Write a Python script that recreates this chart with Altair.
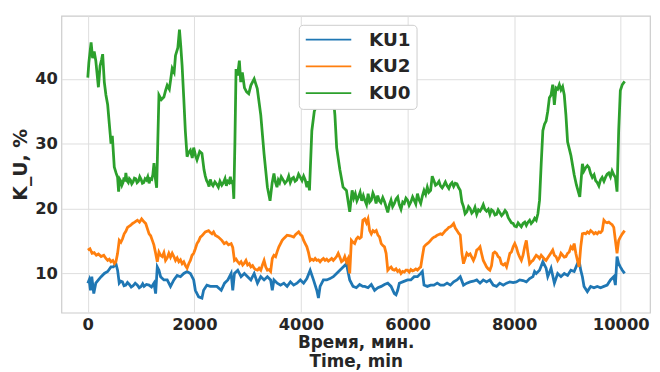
import altair as alt
import pandas as pd

# ---------------- data ----------------
t_ku0 = [0, 20, 40, 62, 90, 120, 150, 199, 230, 260, 279, 310, 340, 373, 404, 420, 435, 460, 497, 530,
         559, 578, 600, 621, 640, 660, 680, 700, 714, 735, 760, 780, 800, 825, 850, 875, 900, 925, 950, 975,
         1000, 1025, 1050, 1075, 1100, 1125, 1150, 1175, 1200, 1220, 1242, 1270, 1292, 1335, 1380, 1428, 1460, 1490, 1530, 1584,
         1620, 1646, 1690, 1720, 1745, 1770, 1801, 1830, 1863, 1890, 1925, 1960, 1987, 2020, 2049, 2100, 2142, 2180, 2205, 2230,
         2250, 2275, 2298, 2325, 2350, 2385, 2422, 2450, 2480, 2515, 2546, 2575, 2600, 2625, 2650, 2675, 2700, 2720, 2740, 2760,
         2782, 2810, 2844, 2870, 2900, 2940, 2980, 3020, 3060, 3122, 3180, 3246, 3308, 3370, 3420, 3460, 3493, 3520, 3550, 3575,
         3600, 3630, 3660, 3700, 3740, 3770, 3800, 3830, 3860, 3890, 3920, 3955, 3988, 4020, 4050, 4080, 4111, 4135, 4160, 4204,
         4250, 4300, 4350, 4400, 4450, 4500, 4550, 4600, 4637, 4670, 4730, 4790, 4853, 4915, 4960, 4990, 5020, 5050, 5080, 5110,
         5140, 5170, 5197, 5230, 5260, 5290, 5320, 5350, 5380, 5410, 5440, 5470, 5500, 5535, 5570, 5600, 5629, 5660, 5690, 5720,
         5753, 5785, 5815, 5845, 5877, 5910, 5939, 5970, 6000, 6030, 6062, 6095, 6124, 6155, 6186, 6215, 6247, 6280, 6309, 6340,
         6371, 6400, 6433, 6463, 6495, 6525, 6557, 6590, 6618, 6650, 6680, 6710, 6742, 6775, 6804, 6835, 6865, 6895, 6927, 6960,
         6989, 7020, 7050, 7080, 7112, 7145, 7174, 7205, 7236, 7265, 7298, 7330, 7360, 7390, 7421, 7450, 7483, 7515, 7545, 7575,
         7607, 7640, 7669, 7700, 7730, 7765, 7796, 7830, 7858, 7890, 7920, 7950, 7982, 8010, 8043, 8075, 8105, 8135, 8167, 8200,
         8229, 8260, 8291, 8320, 8353, 8385, 8415, 8446, 8477, 8508, 8539, 8570, 8600, 8631, 8662, 8693, 8724, 8755, 8786, 8817,
         8848, 8879, 8910, 8941, 8972, 9003, 9065, 9127, 9170, 9232, 9281, 9310, 9343, 9375, 9405, 9435, 9467, 9500, 9529, 9560,
         9590, 9620, 9652, 9685, 9714, 9745, 9776, 9808, 9838, 9870, 9900, 9931, 9962, 9993, 10030, 10074]
v_ku0 = [40.2, 42.5, 44.0, 45.6, 43.2, 44.2, 42.8, 38.7, 42.0, 43.0, 43.8, 39.5, 37.5, 36.0, 33.0, 31.5, 30.0, 31.2, 26.4, 25.5,
         24.8, 22.6, 24.5, 24.2, 23.6, 24.0, 24.8, 24.2, 25.5, 24.3, 24.0, 24.6, 24.4, 23.8, 24.1, 24.7, 24.6, 24.0, 24.2, 24.9,
         24.5, 23.9, 24.0, 24.6, 24.4, 24.9, 23.9, 24.6, 24.5, 25.2, 27.0, 24.5, 23.2, 37.5, 36.8, 37.2, 38.2, 39.0, 38.4, 41.6,
         41.0, 43.6, 44.8, 47.6, 45.0, 42.0, 37.0, 32.0, 28.0, 28.6, 29.0, 27.8, 29.4, 28.2, 27.5, 28.8, 28.5, 26.0, 25.0, 24.3,
         24.0, 23.4, 24.5, 23.8, 23.5, 24.1, 23.7, 23.3, 24.2, 23.6, 24.0, 24.6, 23.5, 24.2, 24.0, 24.9, 23.8, 24.4, 21.5, 30.0,
         41.5, 40.5, 42.8, 39.5, 41.0, 38.6, 38.0, 37.7, 39.0, 40.0, 38.5, 34.4, 28.4, 23.3, 21.2, 24.0, 25.4, 24.1, 23.3, 24.4,
         24.0, 24.9, 24.5, 23.9, 24.3, 25.0, 24.0, 24.6, 24.8, 24.2, 24.4, 25.3, 24.8, 24.3, 25.0, 24.4, 23.3, 24.2, 22.8, 32.0,
         35.0, 36.0, 37.5, 38.2, 37.0, 38.0, 36.5, 37.8, 34.4, 29.4, 26.0, 23.3, 22.8, 19.5, 22.8, 21.6, 22.3, 21.2, 21.8, 22.5,
         21.2, 22.0, 21.3, 20.6, 22.3, 21.0, 21.3, 22.4, 21.8, 20.8, 22.0, 21.2, 20.9, 21.7, 21.0, 20.2, 19.4, 20.6, 21.3, 20.3,
         20.8, 21.5, 21.8, 20.6, 19.9, 21.0, 20.8, 21.6, 21.3, 20.5, 21.0, 21.8, 21.3, 20.7, 22.3, 21.4, 20.8, 22.0, 22.8, 22.2,
         23.3, 22.5, 22.8, 25.0, 24.3, 23.6, 23.8, 24.2, 23.5, 23.2, 23.6, 24.1, 23.5, 23.1, 23.7, 24.0, 23.4, 23.9, 23.8, 23.2,
         22.8, 21.0, 20.3, 19.2, 19.5, 20.3, 20.0, 19.3, 19.6, 20.2, 19.1, 19.8, 19.6, 20.0, 20.6, 19.9, 19.6, 19.9, 19.1, 19.8,
         19.6, 19.0, 19.1, 19.8, 19.4, 18.9, 19.2, 19.7, 19.4, 18.6, 18.2, 17.8, 17.7, 17.3, 17.2, 17.8, 17.5, 17.2, 17.7, 17.9,
         17.4, 17.9, 18.2, 17.7, 18.0, 18.5, 18.2, 19.2, 21.3, 26.9, 32.0, 33.0, 33.5, 35.0, 37.1, 37.5, 39.1, 36.0, 38.6, 38.4,
         39.1, 38.3, 38.8, 37.5, 34.4, 30.3, 28.2, 25.2, 23.6, 21.8, 26.9, 25.8, 26.3, 26.6, 26.3, 25.4, 24.8, 25.2, 24.3, 24.0,
         23.5, 24.4, 24.8, 24.2, 24.8, 25.3, 25.5, 24.9, 25.8, 25.2, 24.8, 22.6, 32.0, 38.2, 39.1, 39.6]

t_ku2 = [0, 40, 80, 120, 160, 200, 250, 300, 340, 373, 404, 435, 470, 500, 528, 559, 590, 621, 650, 683,
         714, 745, 800, 840, 880, 931, 970, 1010, 1050, 1087, 1150, 1180, 1211, 1240, 1273, 1304, 1335, 1366, 1397, 1428,
         1459, 1490, 1521, 1552, 1584, 1615, 1646, 1677, 1708, 1739, 1770, 1801, 1832, 1863, 1894, 1925, 1956, 1987, 2018, 2049,
         2080, 2111, 2142, 2173, 2205, 2267, 2300, 2330, 2360, 2391, 2450, 2515, 2560, 2600, 2640, 2690, 2720, 2752, 2782, 2814,
         2844, 2876, 2906, 2938, 2968, 2999, 3030, 3060, 3092, 3122, 3153, 3184, 3215, 3246, 3277, 3308, 3339, 3370, 3400, 3431,
         3462, 3493, 3524, 3555, 3586, 3617, 3648, 3679, 3740, 3800, 3863, 3900, 3957, 3990, 4020, 4050, 4080, 4111, 4142, 4173,
         4204, 4235, 4266, 4297, 4328, 4359, 4390, 4421, 4452, 4483, 4514, 4545, 4576, 4607, 4637, 4668, 4699, 4730, 4761, 4792,
         4822, 4853, 4884, 4915, 4946, 4977, 5008, 5039, 5070, 5101, 5132, 5161, 5197, 5230, 5258, 5289, 5320, 5351, 5382, 5413,
         5444, 5475, 5506, 5537, 5567, 5598, 5629, 5660, 5691, 5722, 5753, 5784, 5815, 5846, 5877, 5908, 5939, 5970, 6000, 6031,
         6062, 6093, 6124, 6155, 6186, 6217, 6247, 6278, 6309, 6340, 6371, 6402, 6433, 6464, 6495, 6526, 6557, 6588, 6618, 6649,
         6680, 6711, 6742, 6773, 6804, 6835, 6865, 6896, 6927, 6958, 6989, 7020, 7050, 7081, 7112, 7143, 7174, 7205, 7236, 7267,
         7298, 7329, 7360, 7391, 7421, 7452, 7483, 7514, 7545, 7576, 7607, 7638, 7669, 7700, 7730, 7761, 7796, 7827, 7858, 7889,
         7920, 7950, 7982, 8012, 8043, 8074, 8105, 8136, 8167, 8198, 8229, 8260, 8291, 8322, 8353, 8384, 8415, 8446, 8477, 8508,
         8539, 8570, 8600, 8631, 8662, 8693, 8724, 8755, 8786, 8817, 8848, 8879, 8910, 8941, 8972, 9003, 9034, 9065, 9096, 9127,
         9158, 9188, 9219, 9250, 9281, 9312, 9343, 9374, 9405, 9436, 9467, 9498, 9529, 9560, 9591, 9622, 9653, 9684, 9715, 9746,
         9777, 9808, 9839, 9870, 9900, 9931, 9962, 9993, 10030, 10074]
v_ku2 = [13.6, 13.8, 13.1, 13.2, 12.8, 13.0, 12.6, 12.8, 12.3, 12.0, 12.2, 11.8, 12.0, 11.5, 11.8, 13.1, 15.1, 14.8, 15.3, 16.1,
         16.5, 17.1, 17.4, 17.7, 17.9, 18.2, 17.9, 18.4, 18.0, 17.7, 16.1, 15.8, 15.1, 14.4, 13.1, 11.8, 13.3, 12.8, 12.6, 13.2,
         12.0, 12.4, 13.1, 12.5, 13.1, 12.6, 12.0, 12.4, 11.8, 12.1, 11.5, 11.8, 11.2, 10.8, 11.5, 12.0, 12.8, 13.1, 13.8, 14.6,
         15.0, 15.6, 15.8, 16.1, 16.4, 16.6, 16.3, 16.1, 16.4, 15.9, 15.6, 15.1, 14.6, 14.8, 14.4, 14.6, 14.0, 12.0, 12.2, 11.8,
         11.5, 11.8, 11.3, 11.6, 12.0, 11.3, 11.5, 11.0, 11.2, 10.8, 10.6, 10.5, 10.8, 10.5, 11.3, 12.0, 11.0, 10.5, 10.6, 10.3,
         12.3, 12.8, 12.6, 13.4, 14.1, 14.6, 15.1, 15.4, 15.9, 15.8, 15.6, 16.0, 16.4, 16.0, 15.8, 15.1, 14.6, 14.1, 13.2, 12.0,
         12.2, 12.0, 12.3, 12.0, 12.1, 11.8, 12.1, 12.3, 12.0, 12.2, 11.9, 12.1, 12.3, 12.0, 12.3, 12.6, 13.1, 12.5, 11.8, 12.0,
         12.6, 11.8, 12.3, 10.0, 15.1, 14.8, 14.6, 15.3, 15.6, 15.4, 15.6, 18.2, 18.4, 17.8, 18.4, 16.6, 16.1, 16.6, 16.4, 16.6,
         15.9, 15.6, 14.6, 14.3, 14.1, 13.1, 10.5, 10.8, 11.0, 10.6, 10.5, 10.7, 10.3, 10.5, 10.0, 10.3, 10.2, 10.5, 10.5, 10.2,
         10.6, 10.4, 10.5, 10.7, 10.5, 10.8, 11.0, 12.6, 14.1, 14.4, 14.6, 14.8, 15.1, 15.4, 15.6, 15.7, 15.9, 16.0, 16.1, 16.0,
         16.3, 16.6, 16.8, 17.1, 17.2, 17.4, 17.7, 17.0, 16.6, 16.2, 15.9, 13.1, 11.5, 12.3, 13.1, 12.8, 13.0, 12.5, 12.0, 12.6,
         13.6, 13.8, 14.1, 13.0, 12.0, 11.5, 11.0, 10.7, 10.5, 11.2, 13.1, 13.3, 13.1, 12.6, 12.4, 11.5, 11.3, 11.5, 11.0, 12.0,
         13.1, 13.3, 14.1, 14.6, 14.0, 13.1, 12.5, 12.0, 12.8, 14.1, 15.1, 13.1, 11.5, 11.8, 12.0, 12.4, 12.8, 12.6, 12.3, 12.8,
         12.5, 12.2, 12.0, 12.4, 12.8, 13.2, 13.6, 12.8, 12.6, 12.0, 12.4, 13.1, 12.8, 12.5, 12.6, 13.1, 13.3, 14.1, 13.8, 14.6,
         13.1, 12.0, 11.0, 14.1, 16.1, 16.2, 16.1, 16.4, 16.2, 16.6, 16.4, 16.1, 16.3, 16.1, 16.4, 16.3, 16.6, 18.2, 17.9, 17.8,
         17.9, 17.7, 17.5, 17.1, 15.1, 13.1, 15.1, 15.6, 16.1, 16.6]

t_ku1 = [0, 25, 50, 75, 112, 150, 199, 250, 310, 373, 435, 480, 528, 559, 590, 620, 650, 680, 714, 745,
         780, 815, 850, 890, 931, 965, 1000, 1030, 1056, 1100, 1150, 1195, 1242, 1273, 1304, 1335, 1366, 1428, 1490, 1552,
         1615, 1677, 1739, 1801, 1863, 1925, 1987, 2018, 2080, 2142, 2173, 2235, 2298, 2360, 2422, 2504, 2566, 2628, 2690, 2720,
         2752, 2814, 2876, 2938, 2999, 3060, 3122, 3184, 3246, 3308, 3370, 3431, 3462, 3493, 3555, 3617, 3679, 3740, 3802, 3863,
         3925, 3988, 4050, 4111, 4173, 4235, 4297, 4328, 4359, 4421, 4483, 4545, 4607, 4668, 4730, 4792, 4853, 4915, 4977, 5039,
         5101, 5161, 5197, 5258, 5320, 5382, 5444, 5506, 5567, 5629, 5691, 5753, 5784, 5815, 5846, 5908, 6000, 6062, 6124, 6186,
         6247, 6278, 6309, 6371, 6433, 6495, 6557, 6618, 6680, 6742, 6804, 6865, 6927, 6989, 7050, 7112, 7174, 7236, 7298, 7360,
         7421, 7483, 7545, 7607, 7669, 7730, 7796, 7858, 7920, 7982, 8043, 8105, 8167, 8229, 8291, 8353, 8384, 8415, 8477, 8539,
         8600, 8631, 8693, 8755, 8817, 8879, 8941, 9003, 9065, 9127, 9188, 9219, 9250, 9281, 9312, 9374, 9436, 9498, 9560, 9622,
         9684, 9746, 9808, 9870, 9900, 9931, 9962, 9993, 10030, 10074]
v_ku1 = [8.5, 9.0, 7.4, 9.5, 6.9, 8.5, 9.0, 9.5, 10.0, 10.3, 11.0, 11.0, 11.5, 10.5, 8.5, 8.8, 8.7, 8.1, 8.2, 8.6,
         8.3, 7.9, 8.1, 8.5, 8.2, 7.8, 8.0, 8.4, 8.0, 8.3, 8.2, 7.9, 8.5, 6.9, 11.0, 10.5, 9.5, 9.0, 9.0, 8.0,
         9.0, 9.7, 9.5, 10.0, 10.3, 10.0, 9.0, 7.4, 6.4, 6.2, 7.4, 8.2, 8.0, 8.0, 8.0, 7.4, 8.5, 9.0, 10.0, 7.4,
         10.0, 10.5, 9.5, 10.0, 9.5, 9.0, 10.0, 8.5, 9.5, 9.0, 9.5, 9.0, 7.4, 9.0, 8.5, 8.2, 8.5, 8.0, 8.7, 8.2,
         8.5, 9.0, 8.5, 9.2, 10.5, 9.0, 7.4, 6.2, 8.0, 9.0, 9.0, 9.2, 9.5, 10.0, 10.5, 11.0, 11.5, 9.0, 8.0, 7.8,
         8.3, 8.0, 8.0, 7.8, 8.3, 7.4, 7.8, 8.0, 8.3, 8.5, 8.0, 6.9, 6.7, 7.4, 8.5, 8.7, 9.0, 9.0, 9.5, 9.5,
         10.0, 10.3, 8.2, 8.0, 8.2, 8.2, 8.5, 8.2, 8.2, 8.5, 8.2, 8.7, 9.0, 9.5, 8.2, 8.5, 8.7, 8.8, 9.0, 8.5,
         9.0, 8.7, 9.0, 8.2, 8.0, 8.5, 8.2, 8.5, 8.7, 8.6, 8.7, 9.0, 8.9, 8.7, 9.2, 9.5, 10.3, 10.0, 10.5, 11.8,
         10.8, 9.5, 10.8, 8.5, 10.0, 9.5, 10.0, 9.7, 10.5, 10.3, 11.5, 12.0, 10.5, 9.5, 8.0, 7.2, 8.0, 7.8, 8.0, 7.8,
         8.0, 8.2, 9.0, 9.5, 8.2, 12.6, 11.5, 11.0, 10.5, 10.0]

series = ["KU1", "KU2", "KU0"]
colors = ["#1f77b4", "#ff7f0e", "#2ca02c"]
x_ticks = [0, 2000, 4000, 6000, 8000, 10000]
y_ticks = [10, 20, 30, 40]

assert len(t_ku0) == len(v_ku0), (len(t_ku0), len(v_ku0))
assert len(t_ku1) == len(v_ku1), (len(t_ku1), len(v_ku1))
assert len(t_ku2) == len(v_ku2), (len(t_ku2), len(v_ku2))

frames = []
for name, t, v in [("KU1", t_ku1, v_ku1), ("KU2", t_ku2, v_ku2), ("KU0", t_ku0, v_ku0)]:
    frames.append(pd.DataFrame({"t": t, "v": v, "s": name, "o": series.index(name)}))
df = pd.concat(frames, ignore_index=True)

FONT = "DejaVu Sans"
TXT = "#262626"

chart = alt.Chart(df).mark_line(strokeWidth=2.8, clip=True).encode(
    x=alt.X("t:Q",
            scale=alt.Scale(domain=[-495, 10550], nice=False, zero=False),
            axis=alt.Axis(values=x_ticks, format="d", title=["Время, мин.", "Time, min"],
                          titleFontSize=17, titleLineHeight=19, titlePadding=2)),
    y=alt.Y("v:Q",
            scale=alt.Scale(domain=[3.95, 49.7], nice=False, zero=False),
            axis=alt.Axis(values=y_ticks, title="K_U, %", titleFontSize=19, titlePadding=4)),
    color=alt.Color("s:N",
                    scale=alt.Scale(domain=series, range=colors),
                    legend=alt.Legend(title=None, orient="none", legendX=240, legendY=9,
                                      symbolType="stroke", symbolSize=2116, symbolStrokeWidth=1.8,
                                      clipHeight=18, rowPadding=8, padding=6,
                                      labelOffset=17, labelFontSize=18.5, labelFont=FONT,
                                      labelFontWeight="bold", labelColor=TXT,
                                      fillColor="white", strokeColor="#cccccc", cornerRadius=4)),
    detail="s:N",
    order=alt.Order("o:Q"),
).properties(
    width=595,
    height=300,
    autosize=alt.AutoSizeParams(type="none"),
    padding={"left": 54, "top": 6, "right": 2, "bottom": 60},
).configure_view(
    stroke="#cccccc", strokeWidth=1.2
).configure_axis(
    grid=True, gridColor="#dedede", gridWidth=1, domain=False, ticks=False,
    labelFont=FONT, labelFontSize=16.5, labelFontWeight="bold", labelColor=TXT,
    titleFont=FONT, titleFontWeight="bold", titleColor=TXT,
    labelPadding=4,
)

chart.save("out.html", embed_options={"renderer": "svg", "actions": False})
